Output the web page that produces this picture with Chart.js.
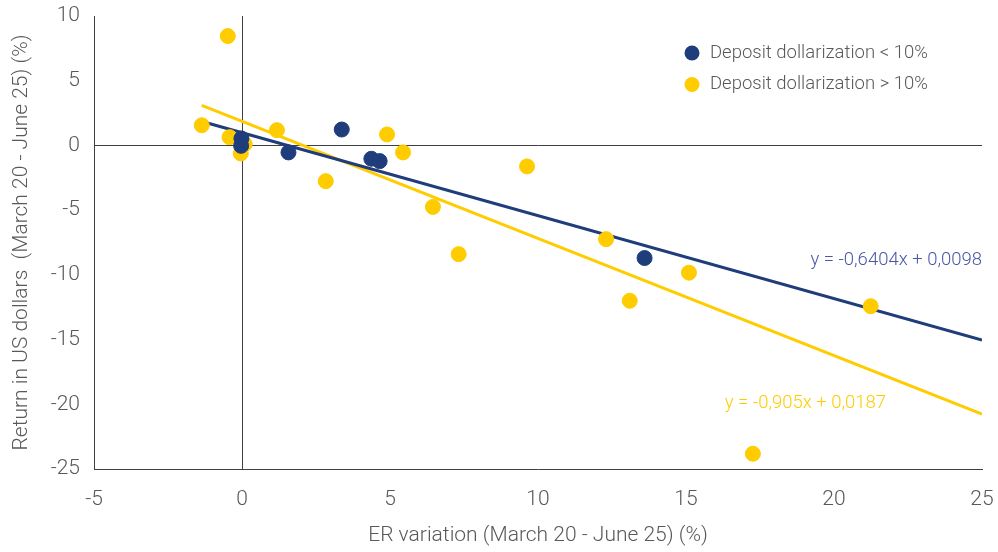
<!DOCTYPE html>
<html>
<head>
<meta charset="utf-8">
<script src="https://cdn.jsdelivr.net/npm/chart.js@4.4.1/dist/chart.umd.min.js"></script>
<style>
  html, body { margin: 0; padding: 0; background: #fff; }
  #wrap { width: 998px; height: 552px; position: relative; }
</style>
</head>
<body>
<div id="wrap"><canvas id="erChart"></canvas></div>
<script>
// ER variation (x) and USD return (y), in %
const lowLabel = 'Deposit dollarization < 10%';
const lowX = [-0.02, -0.03, 1.57, 3.37, 4.37, 4.65, 13.6];
const lowY = [0.54, -0.03, -0.54, 1.23, -1.03, -1.21, -8.7];

const highLabel = 'Deposit dollarization > 10%';
const highX = [-0.48, -1.36, -0.42, -0.04, 0.09, 1.18, 2.83, 4.9, 5.44, 6.45, 7.32, 9.63, 12.3, 13.1, 15.1, 21.24, 17.26];
const highY = [8.45, 1.56, 0.64, -0.62, 0.1, 1.18, -2.76, 0.85, -0.54, -4.75, -8.4, -1.62, -7.24, -12.0, -9.83, -12.42, -23.82];

// linear fits (slope, intercept as fraction) and the x range they span
const lowFit = { slope: -0.6404, intercept: 0.0098, from: -1.2, to: 25 };
const highFit = { slope: -0.905, intercept: 0.0187, from: -1.36, to: 25 };

const xTicks = [-5, 0, 5, 10, 15, 20, 25];
const yTicks = [10, 5, 0, -5, -10, -15, -20, -25];

const NAVY = '#1f3c7b';
const GOLD = '#ffcc00';
const GREY = '#595959';
const AXIS = '#404040';
const FONT = 'Roboto';

const toPoints = (xs, ys) => xs.map((x, i) => ({ x: x, y: ys[i] }));
const fitLine = f => [f.from, f.to].map(x => ({ x: x, y: f.slope * x + f.intercept * 100 }));
const fmt = v => String(v).replace('.', ',');
const eqText = f => 'y = ' + fmt(f.slope) + 'x + ' + fmt(f.intercept);

// equation labels and the legend at top right
const extras = {
  id: 'extras',
  afterDatasetsDraw(chart) {
    const { ctx, scales: { x, y } } = chart;
    ctx.save();
    ctx.font = '300 18.5px ' + FONT;
    ctx.textBaseline = 'middle';
    ctx.fillStyle = '#4a57a6';
    ctx.textAlign = 'right';
    ctx.fillText(eqText(lowFit), x.getPixelForValue(25), y.getPixelForValue(-8.9));
    ctx.fillStyle = GOLD;
    ctx.textAlign = 'left';
    ctx.fillText(eqText(highFit), x.getPixelForValue(16.31), y.getPixelForValue(-19.95));

    const items = [[lowLabel, NAVY], [highLabel, GOLD]];
    items.forEach((it, i) => {
      const cy = 53 + i * 31.5;
      ctx.beginPath();
      ctx.arc(692, cy, 7.5, 0, Math.PI * 2);
      ctx.fillStyle = it[1];
      ctx.fill();
      ctx.fillStyle = GREY;
      ctx.textAlign = 'left';
      ctx.fillText(it[0], 710, cy);
    });
    ctx.restore();
  }
};

const zeroLine = c => (c.tick && c.tick.value === 0) ? AXIS : 'rgba(0,0,0,0)';

new Chart(document.getElementById('erChart'), {
  type: 'scatter',
  data: {
    datasets: [
      { label: lowLabel, data: toPoints(lowX, lowY), backgroundColor: NAVY, borderColor: NAVY, pointRadius: 7.5, pointHoverRadius: 7.5, order: 0 },
      { label: highLabel, data: toPoints(highX, highY), backgroundColor: GOLD, borderColor: GOLD, pointRadius: 7.5, pointHoverRadius: 7.5, order: 1 },
      { label: 'fit low', data: fitLine(lowFit), showLine: true, borderColor: NAVY, borderWidth: 3, pointRadius: 0, order: 2 },
      { label: 'fit high', data: fitLine(highFit), showLine: true, borderColor: GOLD, borderWidth: 3, pointRadius: 0, order: 3 }
    ]
  },
  options: {
    responsive: true,
    maintainAspectRatio: false,
    animation: false,
    layout: { padding: { top: 16, right: 16, left: 0, bottom: 0 } },
    plugins: { legend: { display: false }, tooltip: { enabled: false } },
    scales: {
      x: {
        type: 'linear', min: -5, max: 25,
        afterBuildTicks: s => { s.ticks = xTicks.map(v => ({ value: v })); },
        afterFit: s => { s.height = 83; s.paddingLeft = 0; s.paddingRight = 0; },
        grid: { color: zeroLine, lineWidth: 1, drawTicks: false },
        border: { display: true, color: AXIS, width: 1 },
        ticks: { color: GREY, padding: 18, font: { family: FONT, weight: '300', size: 21 } },
        title: { display: true, text: 'ER variation (March 20 - June 25) (%)', color: GREY, padding: { top: 0, bottom: 4 }, font: { family: FONT, weight: '300', size: 21 } }
      },
      y: {
        type: 'linear', min: -25, max: 10,
        afterBuildTicks: s => { s.ticks = yTicks.map(v => ({ value: v })); },
        afterFit: s => { s.width = 94; s.paddingTop = 0; s.paddingBottom = 0; },
        grid: { color: zeroLine, lineWidth: 1, drawTicks: false },
        border: { display: true, color: AXIS, width: 1 },
        ticks: { color: GREY, padding: 14, font: { family: FONT, weight: '300', size: 21 } },
        title: { display: true, text: 'Return in US dollars  (March 20 - June 25) (%)', color: GREY, padding: { top: 9, bottom: 0 }, font: { family: FONT, weight: '300', size: 21 } }
      }
    }
  },
  plugins: [extras]
});
</script>
</body>
</html>
